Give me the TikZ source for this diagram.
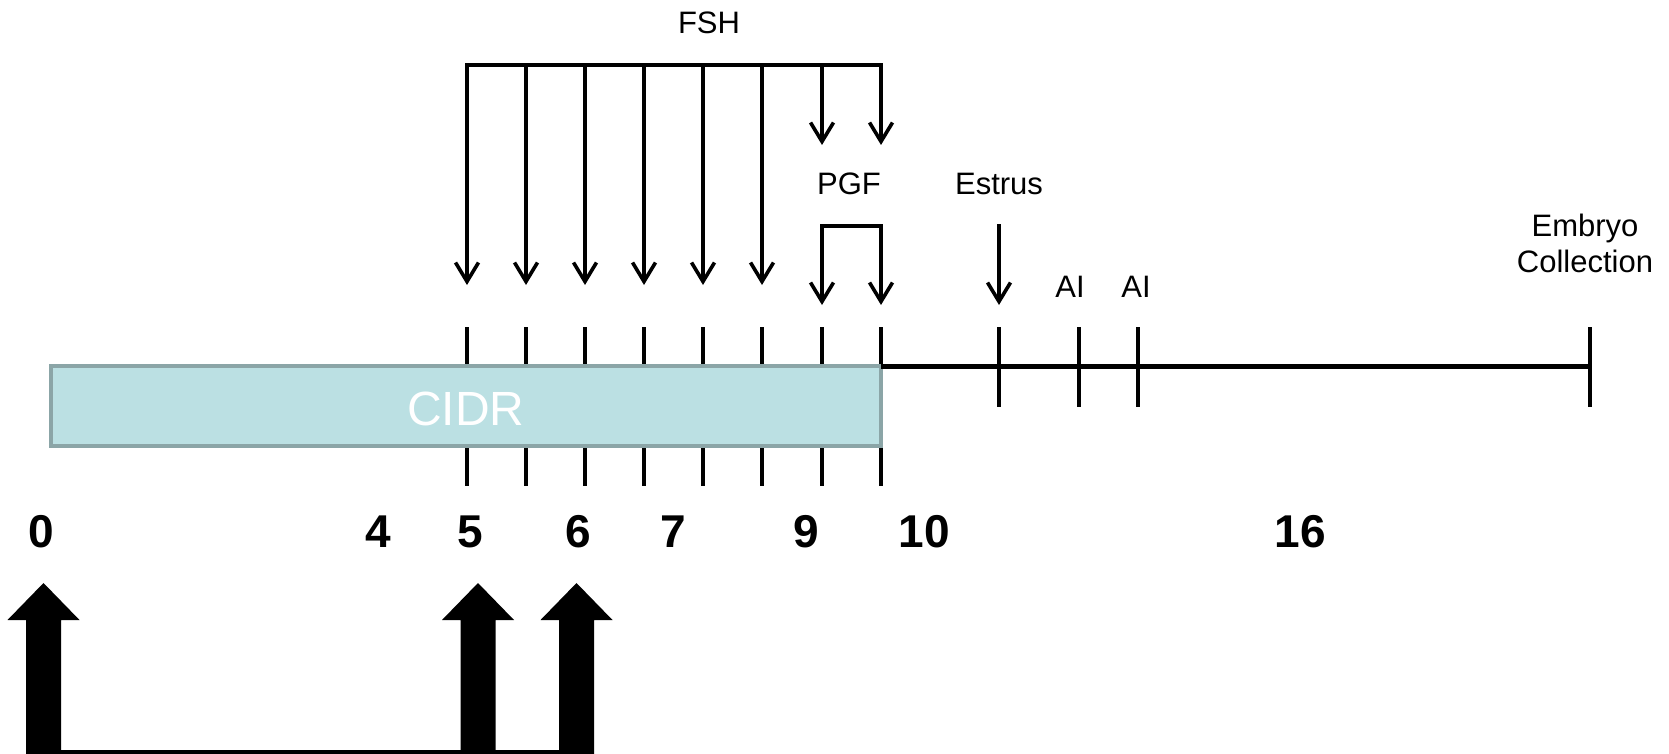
\documentclass[tikz,border=0pt]{standalone}
\usepackage{fontspec}
\setmainfont{Liberation Sans}
\usetikzlibrary{arrows.meta}
\definecolor{cidrfill}{HTML}{BBE0E3}
\definecolor{cidredge}{HTML}{8BA5A7}
\begin{document}
\begin{tikzpicture}[x=1pt,y=-1pt,
  lbl/.style={font=\fontsize{31}{36}\selectfont, inner sep=0pt, anchor=base},
  daynum/.style={font=\fontsize{46}{50}\selectfont\bfseries, inner sep=0pt, anchor=base},
  inj/.style={line width=3.6pt, -{Straight Barb[length=19pt,width=23pt]}},
  brace/.style={line width=3.6pt, line cap=rect},
  tickmark/.style={line width=3.3pt},
  axis/.style={line width=5pt},
  blockarrow/.style={fill=black},
  bar/.style={fill=cidrfill, draw=cidredge, line width=4.5pt}]
\useasboundingbox (0,0) rectangle (1669,754);

% --- tick marks across the CIDR bar (drawn first, the bar covers their middle)
\foreach \i/\x in {1/467,2/526,3/585,4/644,5/703,6/762,7/822,8/881}{
  \coordinate (t\i) at (\x,327);
  \coordinate (b\i) at (\x,486);
  \draw[tickmark] (t\i) -- (b\i);
}

% --- CIDR insert
\draw[bar] (51,366) rectangle (881,446);
\node[font=\fontsize{48}{52}\selectfont, text=white, inner sep=0pt, anchor=base] (cidr) at (466,425) {CIDR};

% --- timeline after CIDR removal
\coordinate (ax0) at (881,366);
\coordinate (ax1) at (1590,366);
\draw[axis] (ax0) -- (ax1);
\foreach \n/\x in {es/999,ai1/1079,ai2/1138,ec/1590}{
  \coordinate (k\n a) at (\x,327);
  \coordinate (k\n b) at (\x,407);
  \draw[tickmark] (k\n a) -- (k\n b);
}

% --- FSH injections
\node[lbl] (fsh) at (709,34) {FSH};
\coordinate (fshL) at (467,65);
\coordinate (fshR) at (881,65);
\draw[brace] (fshL) -- (fshR);
\foreach \i/\x in {1/467,2/526,3/585,4/644,5/703,6/762}{
  \coordinate (f\i) at (\x,65);
  \coordinate (g\i) at (\x,285);
  \draw[inj] (f\i) -- (g\i);
}
\coordinate (f7) at (822,65);
\coordinate (g7) at (822,145);
\coordinate (f8) at (881,65);
\coordinate (g8) at (881,145);
\draw[inj] (f7) -- (g7);
\draw[inj] (f8) -- (g8);

% --- PGF injections
\node[lbl] (pgf) at (849,194) {PGF};
\coordinate (pL) at (822,226);
\coordinate (pR) at (881,226);
\draw[brace] (pL) -- (pR);
\coordinate (p1) at (822,305);
\coordinate (p2) at (881,305);
\draw[inj] (pL) -- (p1);
\draw[inj] (pR) -- (p2);

% --- estrus, AI, embryo collection
\node[lbl] (estrus) at (999,194) {Estrus};
\coordinate (es0) at (999,224);
\coordinate (es1) at (999,305);
\draw[inj] (es0) -- (es1);
\node[lbl] (ai1) at (1070,297) {AI};
\node[lbl] (ai2) at (1136,297) {AI};
\node[lbl] (emb) at (1585,236) {Embryo};
\node[lbl] (coll) at (1585,272) {Collection};

% --- day numbers
\foreach \n/\x in {0/41,4/378,5/470,6/578,7/673,9/806,10/924,16/1300}{
  \node[daynum] (d\n) at (\x,547) {\n};
}

% --- block arrows
\foreach \n/\x in {0/43.5,5/478,6/576.5}{
  \coordinate (ba\n) at (\x,583);
  \fill[blockarrow] (ba\n) -- ++(36,37) -- ++(-18.5,0) -- ++(0,134)
    -- ++(-35,0) -- ++(0,-134) -- ++(-18.5,0) -- cycle;
}
\coordinate (base0) at (43,751.5);
\coordinate (base1) at (594,751.5);
\draw[line width=4pt] (base0) -- (base1);
\end{tikzpicture}
\end{document}
